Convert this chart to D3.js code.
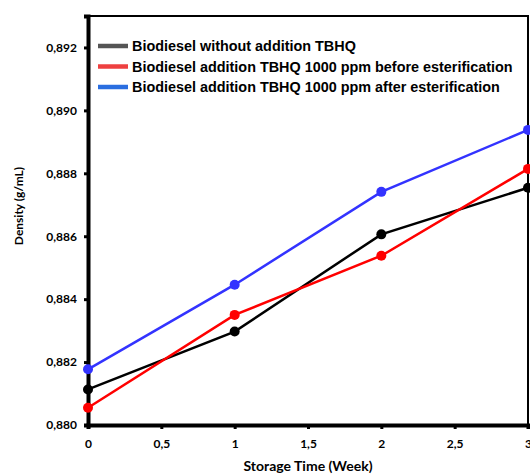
<!DOCTYPE html>
<html>
<head>
<meta charset="utf-8">
<script src="https://cdn.jsdelivr.net/npm/d3@7"></script>
<style>
  body { margin: 0; background: #fff; }
  svg { display: block; }
</style>
</head>
<body>
<div id="chart"></div>
<script>
// data
const weeks = [0, 1, 2, 3];
const withoutTBHQ = [0.88113, 0.88297, 0.88606, 0.88754];
const tbhqBefore = [0.88055, 0.88350, 0.88538, 0.88814];
const tbhqAfter = [0.88177, 0.88446, 0.88741, 0.88938];
const seriesNames = [
    'Biodiesel without addition TBHQ',
    'Biodiesel addition TBHQ 1000 ppm before esterification',
    'Biodiesel addition TBHQ 1000 ppm after esterification'
];
const xTicks = [0, 0.5, 1, 1.5, 2, 2.5, 3];
const yTicks = [0.880, 0.882, 0.884, 0.886, 0.888, 0.890, 0.892];

const w = 530;
const h = 474;
const margin = { top: 16, right: 2, bottom: 49, left: 88 };

const lineColors = ['#000000', '#ff0000', '#3333ff'];
const legendColors = ['#555555', '#ee4040', '#2a6ee0'];

const series = [withoutTBHQ, tbhqBefore, tbhqAfter].map((vals, i) => ({
    name: seriesNames[i],
    color: lineColors[i],
    values: vals.map((v, j) => ({ x: weeks[j], y: v }))
}));

const svg = d3.select('#chart')
    .append('svg')
    .attr('width', w)
    .attr('height', h);

const xScale = d3.scaleLinear()
    .domain([0, 3])
    .range([margin.left, w - margin.right]);

const yScale = d3.scaleLinear()
    .domain([0.880, 0.893])
    .range([h - margin.bottom, margin.top]);

const fmtComma = d => String(d).replace('.', ',');

// frame (top + right thinner)
svg.append('rect')
    .attr('x', xScale(0))
    .attr('y', yScale(0.893))
    .attr('width', xScale(3) - xScale(0))
    .attr('height', yScale(0.880) - yScale(0.893))
    .attr('fill', 'none')
    .attr('stroke', '#000')
    .attr('stroke-width', 2);

// axes
const xAxis = d3.axisBottom(xScale)
    .tickValues(xTicks)
    .tickSize(4)
    .tickFormat(d => fmtComma(d));

const yAxis = d3.axisLeft(yScale)
    .tickValues(yTicks)
    .tickSize(4)
    .tickFormat(d => fmtComma(d3.format('.3f')(d)));

const gx = svg.append('g')
    .attr('transform', `translate(0, ${yScale(0.880)})`)
    .call(xAxis);

const gy = svg.append('g')
    .attr('transform', `translate(${xScale(0)}, 0)`)
    .call(yAxis);

[gx, gy].forEach(g => {
    g.select('.domain').attr('stroke', '#000').attr('stroke-width', 4);
    g.selectAll('.tick line').attr('stroke', '#000').attr('stroke-width', 3);
    g.selectAll('.tick text')
        .attr('fill', '#000')
        .style('font-family', 'Lato, "Open Sans", sans-serif')
        .style('font-weight', 'bold')
        .style('font-size', '12px');
});
gx.selectAll('.tick text').attr('dy', '1.05em').attr('y', 10);
gy.selectAll('.tick text').attr('x', -11);

// axis titles
svg.append('text')
    .attr('x', (xScale(0) + xScale(3)) / 2)
    .attr('y', 471)
    .attr('text-anchor', 'middle')
    .style('font-family', 'Lato, "Open Sans", sans-serif')
    .style('font-weight', 'bold')
    .style('font-size', '14px')
    .text('Storage Time (Week)');

svg.append('text')
    .attr('transform', 'translate(23, 206) rotate(-90)')
    .attr('text-anchor', 'middle')
    .style('font-family', 'Lato, "Open Sans", sans-serif')
    .style('font-weight', 'bold')
    .style('font-size', '12px')
    .text('Density (g/mL)');

// lines + markers
const line = d3.line()
    .x(d => xScale(d.x))
    .y(d => yScale(d.y));

const plot = svg.append('g');

series.forEach(s => {
    plot.append('path')
        .datum(s.values)
        .attr('fill', 'none')
        .attr('stroke', s.color)
        .attr('stroke-width', 2.5)
        .attr('d', line);

    plot.selectAll(null)
        .data(s.values)
        .enter()
        .append('circle')
        .attr('cx', d => xScale(d.x))
        .attr('cy', d => yScale(d.y))
        .attr('r', 5)
        .attr('fill', s.color);
});

// legend
const legend = svg.append('g')
    .attr('transform', 'translate(98, 46)');

seriesNames.forEach((name, i) => {
    const row = legend.append('g')
        .attr('transform', `translate(0, ${i * 20.5})`);
    row.append('line')
        .attr('x1', 0)
        .attr('x2', 30)
        .attr('stroke', legendColors[i])
        .attr('stroke-width', 4.5);
    row.append('text')
        .attr('x', 34)
        .attr('dy', '0.35em')
        .style('font-family', '"Liberation Sans", Arial, sans-serif')
        .style('font-weight', 'bold')
        .style('font-size', '14.4px')
        .text(name);
});
</script>
</body>
</html>
